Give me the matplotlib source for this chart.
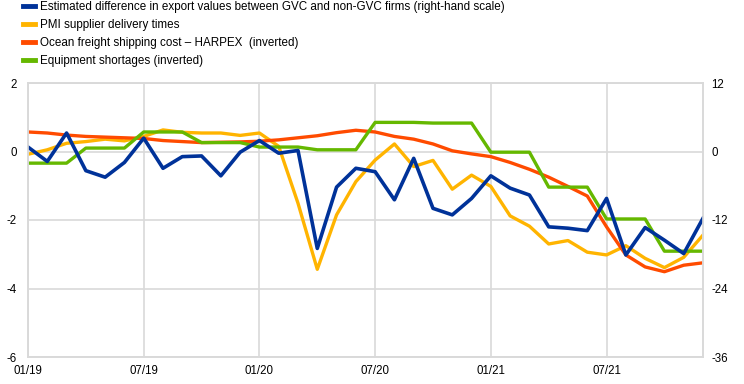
import matplotlib.pyplot as plt

plt.rcParams['font.family'] = ['Liberation Sans', 'DejaVu Sans']
plt.rcParams['axes.unicode_minus'] = False

# monthly observations, 01/19 .. 12/21
months = list(range(36))
tick_pos = [0, 6, 12, 18, 24, 30]
tick_labels = ['01/19', '07/19', '01/20', '07/20', '01/21', '07/21']

# estimated difference in export values GVC vs non-GVC (right-hand scale)
gvc_diff = [0.78, -1.74, 3.24, -3.36, -4.5, -1.92, 2.34, -2.94, -0.9, -0.78, -4.26, -0.12,
            1.92, -0.3, 0.18, -16.98, -6.24, -2.94, -3.54, -8.46, -1.2, -9.96, -11.1, -8.22,
            -4.26, -6.42, -7.62, -13.2, -13.44, -13.86, -8.22, -18.12, -13.32, -15.54, -17.88, -11.7]
# PMI supplier delivery times
pmi = [-0.08, 0.05, 0.24, 0.29, 0.36, 0.31, 0.44, 0.63, 0.56, 0.54, 0.54, 0.47,
       0.54, 0.15, -1.51, -3.44, -1.85, -0.88, -0.25, 0.22, -0.44, -0.26, -1.10, -0.69,
       -1.02, -1.88, -2.18, -2.70, -2.60, -2.94, -3.02, -2.75, -3.12, -3.39, -3.09, -2.44]
# ocean freight shipping cost - HARPEX (inverted)
harpex = [0.57, 0.54, 0.48, 0.44, 0.42, 0.40, 0.38, 0.32, 0.29, 0.26, 0.27, 0.28,
          0.30, 0.34, 0.40, 0.46, 0.55, 0.62, 0.57, 0.44, 0.36, 0.22, 0.02, -0.07,
          -0.15, -0.32, -0.52, -0.75, -1.02, -1.30, -2.20, -3.02, -3.37, -3.51, -3.32, -3.25]
# equipment shortages (inverted)
equipment = [-0.34, -0.34, -0.34, 0.10, 0.10, 0.10, 0.57, 0.57, 0.57, 0.26, 0.26, 0.26,
             0.13, 0.13, 0.13, 0.05, 0.05, 0.05, 0.85, 0.85, 0.85, 0.83, 0.83, 0.83,
             -0.02, -0.02, -0.02, -1.04, -1.04, -1.04, -1.97, -1.97, -1.97, -2.91, -2.91, -2.91]

blue = '#003299'
yellow = '#ffb400'
red = '#ff4b00'
green = '#65b800'
grid = '#d9d9d9'

fig = plt.figure(figsize=(7.44, 3.84), dpi=100)
ax = fig.add_axes([28 / 744, 1 - 357 / 384, 675 / 744, 274 / 384])
ax2 = ax.twinx()

ax.plot(months, pmi, color=yellow, lw=2.4)
ax.plot(months, harpex, color=red, lw=2.4)
ax.plot(months, equipment, color=green, lw=2.4)
ax2.plot(months, gvc_diff, color=blue, lw=2.6)

ax.set_xlim(0, 35)
ax.set_ylim(-6, 2)
ax.set_yticks([-6, -4, -2, 0, 2])
ax2.set_ylim(-36, 12)
ax2.set_yticks([-36, -24, -12, 0, 12])
ax.set_xticks(tick_pos)
ax.set_xticklabels(tick_labels)

ax.grid(True, color=grid, lw=1.2)
ax.set_axisbelow(True)
for a in (ax, ax2):
    for s in a.spines.values():
        s.set_color(grid)
        s.set_linewidth(1.2)
    a.tick_params(length=0, labelsize=8.3, colors='black')
ax.tick_params(axis='x', pad=6)
ax.tick_params(axis='y', pad=8)
ax2.tick_params(axis='y', pad=6)

handles = [plt.Line2D([], [], color=c, lw=3.5) for c in (blue, yellow, red, green)]
labels = ['Estimated difference in export values between GVC and non-GVC firms (right-hand scale)',
          'PMI supplier delivery times',
          'Ocean freight shipping cost \u2013 HARPEX  (inverted)',
          'Equipment shortages (inverted)']
fig.legend(handles, labels, loc='upper left', bbox_to_anchor=(0.017, 1.025), frameon=False,
           fontsize=8.4, handlelength=1.0, handletextpad=0.45, labelspacing=0.52)

fig.savefig('out.png', dpi=100)
